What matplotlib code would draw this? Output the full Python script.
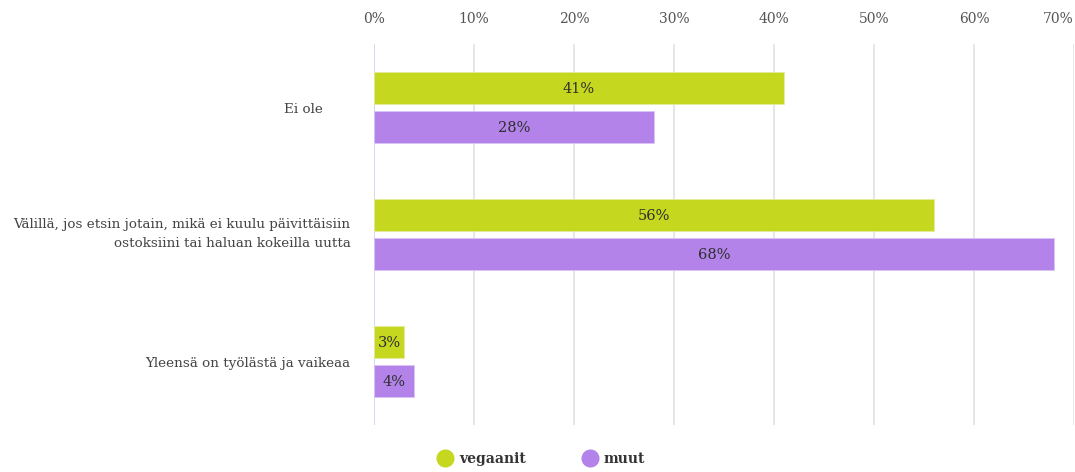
import matplotlib
matplotlib.use("Agg")
import matplotlib.pyplot as plt
import matplotlib.transforms as mtransforms
from matplotlib.lines import Line2D
import numpy as np

categories = [
    "Ei ole",
    "Välillä, jos etsin jotain, mikä ei kuulu päivittäisiin\nostoksiini tai haluan kokeilla uutta",
    "Yleensä on työlästä ja vaikeaa",
]
vegaanit = [41, 56, 3]
muut = [28, 68, 4]
series_names = ["vegaanit", "muut"]
x_ticks = [0, 10, 20, 30, 40, 50, 60, 70]

green = "#c5d71f"
purple = "#b383ea"

plt.rcParams["font.family"] = ["DejaVu Serif"]

fig = plt.figure(figsize=(10.75, 4.72), dpi=100)
ax = fig.add_axes([374 / 1075, 1 - 425 / 472, 700 / 1075, 381 / 472])

y = np.arange(len(categories))
h = 0.252
off = 0.154
b1 = ax.barh(y - off, vegaanit, height=h, color=green, edgecolor="#e4ec9a", linewidth=0.6, zorder=3)
b2 = ax.barh(y + off, muut, height=h, color=purple, edgecolor="#d9c4f5", linewidth=0.6, zorder=3)

for bars, vals in ((b1, vegaanit), (b2, muut)):
    for rect, v in zip(bars, vals):
        ax.text(rect.get_x() + rect.get_width() / 2, rect.get_y() + rect.get_height() / 2 + 0.01,
                f"{v}%", ha="center", va="center", fontsize=10.5, color="#2e2e2e", zorder=4)

ax.set_xlim(0, 70)
ax.set_ylim(len(categories) - 0.5, -0.5)
ax.xaxis.tick_top()
ax.set_xticks(x_ticks)
ax.set_xticklabels([f"{t}%" for t in x_ticks], color="#555555", fontsize=10)
ax.tick_params(axis="x", length=0, pad=13)
ax.tick_params(axis="y", length=0, pad=17)
ax.set_yticks(y)
ax.set_yticklabels(categories, color="#444444", fontsize=9.7, ha="right", multialignment="right",
                   linespacing=1.6)

# last tick label sits flush with the right edge
xl = ax.get_xticklabels()
xl[-1].set_ha("right")
xl[-1].set_x(70)

# small position tweaks for the first two category labels
yl = ax.get_yticklabels()
yl[0].set_transform(yl[0].get_transform() + mtransforms.ScaledTranslation(-28 / 100, 0, fig.dpi_scale_trans))
yl[1].set_transform(yl[1].get_transform() + mtransforms.ScaledTranslation(0, 5 / 100, fig.dpi_scale_trans))

for s in ax.spines.values():
    s.set_visible(False)
ax.grid(False)
for t in x_ticks:
    ax.axvline(t, color="#c9d3ec" if t == 0 else "#e2e2e2", linewidth=1.2, zorder=1)

handles = [
    Line2D([], [], marker="o", linestyle="none", markersize=12, markerfacecolor=green, markeredgecolor=green),
    Line2D([], [], marker="o", linestyle="none", markersize=12, markerfacecolor=purple, markeredgecolor=purple),
]
fig.legend(handles, series_names, loc="center", bbox_to_anchor=(0.503, 0.028), ncol=2, frameon=False,
           prop={"weight": "bold", "size": 10}, columnspacing=4.0, handletextpad=0.4, handlelength=1.2,
           labelcolor="#333333")

fig.savefig("out.png", dpi=100)
